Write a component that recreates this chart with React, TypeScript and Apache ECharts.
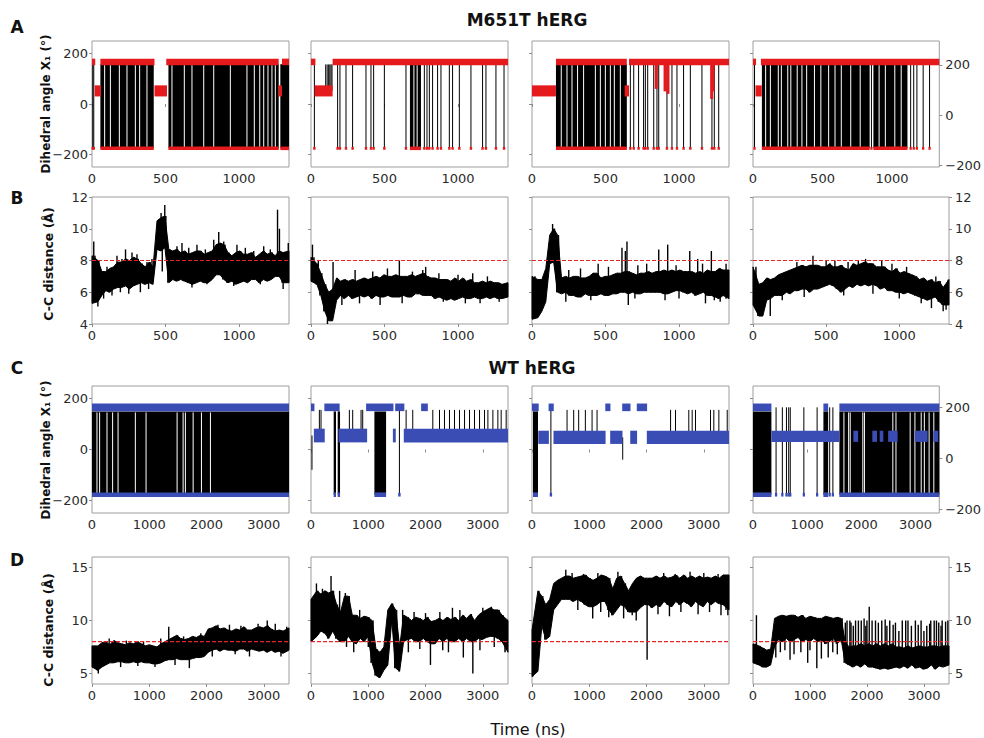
import React, { useEffect, useRef } from 'react';
import * as echarts from 'echarts';

// ---------------- axis data ----------------
const MUT_TIME_END = 1340;
const WT_TIME_END = 3440;
const MUT_TIME_TICKS = [0, 500, 1000];
const WT_TIME_TICKS = [0, 1000, 2000, 3000];
const ANGLE_TICKS = [-200, 0, 200];
const MUT_DIST_TICKS = [4, 6, 8, 10, 12];
const WT_DIST_TICKS = [5, 10, 15];
const DIST_CUTOFF = 8;

// dihedral state levels (degrees)
const MUT_LEVELS = { top: 167, topSpread: 13, bottom: -176, bottomSpread: 7, flipTop: 158 };
const WT_LEVELS = { top: 166, topSpread: 15, bottom: -178, bottomSpread: 9, flipTop: 150 };
const MUT_GAUCHE = [52, 22];
const WT_GAUCHE_C2 = [55, 27];
const WT_GAUCHE_C3 = [48, 26];
const WT_GAUCHE_C4 = [52, 22];

// ---------------- A: M651T dihedral ----------------
const A1_TOP = [[0, 22], [57, 425], [505, 1270], [1292, 1340]];
const A1_MID = [[18, 60], [425, 510], [1268, 1292]];
const A1_DENSE = [[57, 420], [520, 1270], [1281, 1340]];
const A1_GAPS = [86, 125, 186, 238, 295, 324, 374, 544, 628, 680, 760, 828, 941, 1054, 1104, 1141, 1168, 1197, 1224, 1247];
const A1_FLIPS = [5, 12];

const A2_TOP = [[0, 30], [147, 1340]];
const A2_MID = [[25, 147]];
const A2_DENSE = [[673, 748]];
const A2_GAPS = [700, 722];
const A2_FLIPS = [23, 181, 197, 238, 283, 374, 408, 426, 499, 646, 771, 789, 805, 827, 861, 884, 941, 963, 1009, 1088, 1167, 1190, 1258, 1313];
const A2_HOPS = [100, 110, 120, 128, 136, 143];

const A3_TOP = [[163, 645], [660, 1340]];
const A3_MID = [[0, 163], [630, 660]];
const A3_DENSE = [[163, 645]];
const A3_GAPS = [199, 238, 272, 310, 351, 431, 465, 499, 533, 560, 601];
const A3_FLIPS = [669, 692, 725, 759, 771, 787, 828, 850, 862, 918, 952, 986, 1031, 1077, 1156, 1224, 1240, 1270];
const A3_DIPS = [[845, 60], [905, 50], [925, 40], [1222, 20], [1232, 50]];

const A4_TOP = [[0, 22], [57, 1340]];
const A4_MID = [[18, 63]];
const A4_DENSE = [[64, 839], [866, 1111]];
const A4_GAPS = [91, 125, 182, 204, 250, 272, 318, 352, 386, 442, 488, 544, 590, 635, 703, 771, 907, 952, 1020, 1066];
const A4_FLIPS = [11, 852, 1134, 1156, 1179, 1224, 1270];

// ---------------- B: M651T C-C distance: core band per bin (low / high) + spikes [t, value] ----------------
const B1_LO = [5.3,5.4,5.8,6.1,6.0,6.2,6.3,6.3,6.4,6.2,6.4,6.5,6.6,6.5,6.6,6.5,8.7,8.6,8.8,6.6,6.8,6.7,6.8,6.7,6.6,6.5,6.6,6.7,6.6,6.6,6.8,7.1,7.1,6.8,6.6,6.7,6.5,6.6,6.7,6.6,6.8,6.8,6.6,6.8,6.7,6.8,7.0,7.0,6.6,6.6];
const B1_HI = [8.3,8.0,7.3,7.3,7.5,7.6,7.9,7.9,8.1,8.0,8.2,8.1,7.8,7.6,7.9,7.6,10.5,10.7,10.8,8.7,8.6,8.7,8.5,8.6,8.4,8.5,8.6,8.6,8.4,8.5,8.6,9.0,9.1,9.0,8.5,8.3,8.5,8.6,8.4,8.4,8.5,8.2,8.4,8.6,8.4,8.5,8.3,8.6,8.5,8.6];
const B1_SPIKES = [[12, 9.2], [40, 5.1], [57, 7.6], [79, 5.6], [102, 7.6], [136, 5.8], [170, 8.3], [193, 6.0], [204, 8.1], [228, 8.7], [250, 5.9], [272, 8.5], [306, 8.4], [329, 6.0], [374, 7.9], [385, 6.2], [408, 8.1], [470, 11.0], [478, 7.3], [495, 11.5], [578, 8.9], [612, 9.1], [658, 8.8], [680, 6.3], [714, 9.0], [771, 8.7], [782, 6.5], [828, 9.3], [862, 9.8], [896, 9.2], [964, 6.4], [986, 9.0], [1043, 8.8], [1100, 8.6], [1145, 6.5], [1168, 8.9], [1213, 8.7], [1262, 11.2], [1275, 10.0], [1300, 6.2], [1335, 9.1]];
const B2_LO = [6.7,6.5,5.8,4.8,4.2,4.2,5.5,5.8,5.6,5.8,5.6,5.7,5.8,5.7,5.8,5.6,5.8,5.7,5.7,5.8,5.7,5.7,5.7,5.8,5.7,5.7,5.9,5.9,5.8,5.8,5.8,5.6,5.7,5.6,5.5,5.6,5.5,5.6,5.7,5.6,5.6,5.7,5.6,5.6,5.7,5.6,5.7,5.6,5.6,5.7];
const B2_HI = [8.2,7.8,7.2,6.5,6.0,6.2,6.9,6.7,6.8,6.7,6.8,6.7,6.8,6.9,6.8,6.9,7.0,6.9,7.1,7.0,7.0,7.1,7.0,7.0,7.0,7.1,7.0,7.1,7.2,7.0,6.9,6.9,6.8,6.8,6.8,6.7,6.9,6.7,6.9,6.7,6.8,6.6,6.6,6.7,6.6,6.7,6.6,6.6,6.5,6.6];
const B2_SPIKES = [[10, 9.0], [50, 8.0], [112, 4.0], [150, 7.9], [210, 5.2], [300, 7.4], [330, 5.3], [420, 7.3], [470, 5.2], [520, 7.5], [601, 8.0], [620, 5.3], [690, 7.3], [760, 7.4], [780, 7.6], [870, 7.2], [900, 5.4], [1000, 7.1], [1050, 5.3], [1100, 7.2], [1150, 5.3], [1200, 7.0], [1280, 5.4]];
const B3_LO = [4.3,4.4,4.8,5.4,7.8,7.9,6.0,5.9,6.0,5.8,5.8,5.7,5.7,5.9,5.8,5.8,5.8,5.9,5.8,5.8,5.9,5.9,6.0,6.0,5.9,6.0,5.9,5.9,6.0,6.0,6.0,6.0,6.0,5.9,5.9,6.0,6.1,6.1,6.0,5.9,6.0,5.8,5.9,6.0,5.8,5.8,5.7,5.6,5.8,5.6];
const B3_HI = [7.0,6.8,6.8,7.5,9.6,10.0,9.6,6.9,7.0,6.9,7.0,7.0,6.9,6.9,7.0,7.2,7.2,6.9,7.0,7.0,7.1,7.2,7.2,7.3,7.3,7.2,7.1,7.2,7.2,7.3,7.2,7.3,7.3,7.4,7.3,7.4,7.3,7.4,7.3,7.3,7.3,7.2,7.3,7.2,7.4,7.3,7.3,7.5,7.4,7.4];
const B3_SPIKES = [[140, 10.3], [230, 5.4], [250, 7.4], [330, 7.5], [400, 5.5], [450, 7.8], [520, 7.6], [612, 8.8], [635, 8.6], [646, 9.2], [655, 5.2], [700, 5.6], [720, 7.7], [780, 7.8], [862, 8.7], [905, 5.5], [923, 9.0], [980, 7.7], [1000, 5.6], [1073, 8.6], [1127, 8.1], [1160, 7.8], [1180, 5.3], [1220, 8.6], [1240, 5.5], [1280, 5.4], [1320, 7.8]];
const B4_LO = [5.2,4.5,4.5,5.5,5.6,5.8,5.8,5.8,6.0,5.9,6.1,6.1,6.2,6.2,6.0,6.2,6.2,6.3,6.4,6.5,6.4,6.2,6.0,6.2,6.4,6.3,6.5,6.4,6.5,6.4,6.5,6.4,6.2,6.3,6.1,6.1,6.0,6.0,5.9,6.0,5.9,5.8,5.7,5.6,5.5,5.6,5.7,5.4,5.2,5.2];
const B4_HI = [7.6,6.5,6.6,6.9,6.8,6.9,7.1,7.2,7.3,7.4,7.5,7.6,7.7,7.6,7.7,7.7,7.7,7.6,7.6,7.8,7.6,7.6,7.7,7.5,7.4,7.8,7.7,7.8,7.9,7.8,7.8,7.6,7.6,7.6,7.4,7.3,7.5,7.2,7.3,7.2,7.1,7.0,6.8,6.9,6.7,6.8,6.6,6.7,6.3,6.8];
const B4_SPIKES = [[118, 4.5], [200, 5.5], [300, 7.9], [350, 5.7], [410, 8.3], [500, 8.0], [560, 8.0], [620, 5.8], [650, 7.9], [720, 8.0], [770, 8.1], [820, 5.9], [880, 8.0], [950, 7.8], [1000, 5.6], [1050, 7.6], [1150, 5.3], [1220, 5.0], [1250, 7.0], [1300, 4.8], [1320, 4.9]];

// ---------------- C: WT dihedral ----------------
const C1_TOP = [[0, 3440]];
const C1_DENSE = [[0, 3440]];
const C1_GAPS = [87, 133, 262, 360, 455, 757, 944, 1486, 1591, 1631, 1766, 1911, 2068];

const C2_TOP = [[0, 60], [233, 500], [962, 1440], [1470, 1630], [1923, 2040]];
const C2_MID = [[50, 240], [480, 980], [1430, 1480], [1620, 3440]];
const C2_DENSE = [[396, 437], [466, 507], [1107, 1311]];
const C2_FLIPS = [1544];
const C2_HOPS = [146, 175, 670, 728, 874, 903, 1661, 1777, 2127, 2244, 2331, 2418, 2506, 2593, 2681, 2768, 2855, 2943, 3030, 3089, 3176, 3263, 3321, 3408];
const C2_DIPS = [[17, -80]];

const C3_TOP = [[0, 117], [290, 380], [1280, 1370], [1575, 1720], [1830, 2010]];
const C3_MID = [[110, 295], [375, 1285], [1365, 1580], [1715, 1835], [2005, 3440]];
const C3_DENSE = [[17, 105]];
const C3_FLIPS = [330];
const C3_HOPS = [612, 728, 815, 932, 1049, 1136, 2420, 2506, 2738, 2797, 2855, 3117, 3175, 3263, 3409];
const C3_DIPS = [[1584, -40]];

const C4_TOP = [[0, 340], [1300, 1388], [1595, 3440]];
const C4_MID = [[340, 1595], [1853, 1941], [2203, 2290], [2340, 2407], [2495, 2670], [2990, 3224], [3330, 3420]];
const C4_DENSE = [[0, 340], [1300, 1388], [1595, 3440]];
const C4_GAPS = [1679, 1766, 1795, 2028, 2058, 2582, 2640, 2902, 2990, 3106, 3164, 3252, 3339];
const C4_FLIPS = [426, 542, 618, 659, 688, 939, 1184, 1416, 1475];

// ---------------- D: WT C-C distance: core band per bin (low / high) + spikes [t, value] ----------------
const D1_LO = [5.6,5.3,5.6,5.8,6.0,6.0,6.1,6.1,6.0,6.0,6.1,6.0,6.1,6.0,6.0,5.9,5.9,6.0,6.2,6.3,6.3,6.4,6.3,6.3,6.3,6.4,6.5,6.5,6.6,7.0,7.2,7.3,7.1,7.3,7.2,7.2,7.1,7.3,7.3,7.1,7.3,7.2,7.1,7.2,7.0,7.2,7.0,7.1,6.9,7.2];
const D1_HI = [7.6,7.6,7.9,8.0,7.7,8.1,7.9,7.8,7.7,7.9,7.8,8.0,7.8,7.6,7.7,7.6,7.5,7.8,8.0,8.2,8.4,8.6,8.3,8.2,8.3,8.5,8.4,8.6,8.5,9.2,9.3,9.5,9.2,9.3,9.1,9.0,9.2,9.1,9.4,9.1,9.1,9.3,9.4,9.3,9.5,9.2,9.0,9.1,9.0,9.3];
const D1_SPIKES = [[110, 5.0], [300, 8.3], [500, 5.6], [600, 8.1], [800, 5.7], [900, 8.0], [1100, 5.6], [1200, 8.3], [1340, 9.4], [1450, 5.8], [1600, 8.5], [1700, 5.5], [1900, 8.8], [2100, 6.6], [2200, 9.6], [2400, 9.6], [2500, 6.8], [2600, 9.5], [2750, 6.6], [2900, 9.7], [3060, 10.0], [3200, 9.7], [3300, 6.6], [3400, 9.4]];
const D2_LO = [8.0,8.5,9.0,8.8,8.3,9.0,8.3,8.0,8.0,8.5,8.0,7.8,8.3,8.0,8.5,6.0,4.8,4.6,5.3,5.8,10.0,5.5,5.2,8.0,8.2,8.3,8.0,8.0,8.3,8.0,7.8,7.8,8.3,8.0,8.3,8.0,8.0,8.3,8.0,8.3,8.0,8.0,8.3,8.2,8.4,8.5,8.5,8.3,8.0,7.0];
const D2_HI = [12.0,12.8,12.5,12.8,12.6,12.8,11.5,10.8,12.3,12.3,10.5,10.5,10.2,10.4,10.3,10.0,7.3,7.0,7.5,11.0,11.6,11.0,7.5,10.5,10.3,10.0,10.3,10.2,10.0,10.3,9.9,10.0,10.2,10.0,10.3,10.1,10.3,10.0,10.5,10.2,10.6,10.0,10.5,10.8,11.0,11.2,11.0,11.0,10.5,10.0];
const D2_SPIKES = [[95, 13.5], [200, 13.0], [350, 14.2], [500, 12.8], [600, 12.6], [620, 7.5], [746, 7.0], [850, 11.0], [1000, 7.5], [1600, 11.0], [1700, 7.0], [1800, 10.8], [1900, 7.3], [2000, 10.7], [2086, 5.8], [2250, 10.8], [2300, 7.2], [2400, 7.0], [2470, 11.2], [2600, 11.0], [2660, 6.5], [2826, 5.0], [2950, 7.2], [3000, 11.2], [3150, 11.3], [3200, 7.5]];
const D3_LO = [4.7,5.2,9.5,8.2,8.5,11.0,11.5,12.0,12.0,12.0,11.8,12.0,11.8,11.5,11.3,11.3,11.5,11.8,11.8,11.0,10.5,11.0,11.5,11.3,10.8,10.8,10.8,11.2,11.5,11.5,11.2,11.5,11.3,11.8,11.5,11.3,11.8,11.5,11.8,11.6,11.3,11.8,11.5,11.3,11.8,11.5,11.8,11.6,11.5,11.0];
const D3_HI = [9.1,12.8,12.3,11.5,12.0,13.5,13.8,14.0,14.2,14.2,14.0,14.1,14.2,14.3,14.0,13.8,14.0,14.3,14.2,14.0,13.0,14.0,14.2,13.5,12.8,13.5,14.0,14.2,14.0,14.0,14.0,14.2,14.0,14.2,14.0,14.1,14.3,14.0,14.3,14.0,14.2,14.0,14.2,14.0,14.1,14.0,14.2,14.0,14.3,14.3];
const D3_SPIKES = [[590, 14.8], [700, 14.5], [800, 11.0], [900, 14.4], [1060, 10.2], [1150, 14.5], [1200, 10.8], [1340, 10.3], [1500, 14.6], [1600, 10.2], [1750, 10.5], [1820, 10.0], [2010, 6.3], [2200, 10.6], [2300, 14.5], [2400, 10.4], [2500, 14.4], [2600, 10.8], [2760, 14.6], [2900, 10.6], [3000, 14.5], [3100, 10.8], [3250, 14.4], [3300, 10.5], [3420, 10.5]];
const D4_LO = [6.0,5.8,5.6,5.6,5.8,7.5,8.2,8.0,8.3,8.0,8.2,8.4,8.0,8.2,8.0,8.3,8.0,8.2,7.8,8.0,8.3,7.8,8.2,6.0,5.8,5.6,5.8,5.6,5.9,5.6,5.6,5.5,5.4,5.5,5.4,5.5,5.6,5.5,5.7,5.5,5.8,5.5,5.6,5.4,5.5,5.8,5.4,5.7,5.6,5.8];
const D4_HI = [7.8,7.6,7.4,7.2,7.3,10.2,10.4,10.5,10.4,10.5,10.5,10.3,10.5,10.2,10.4,10.3,10.2,10.2,10.4,10.3,10.2,10.3,10.2,8.0,7.5,7.6,7.6,7.8,7.6,7.8,7.6,7.8,7.6,7.8,7.6,7.8,7.5,7.5,7.4,7.6,7.4,7.5,7.6,7.5,7.5,7.6,7.6,7.5,7.6,7.6];
const D4_SPIKES = [[60, 10.5], [400, 6.5], [480, 7.0], [560, 7.2], [650, 6.3], [720, 6.8], [840, 7.0], [960, 6.0], [1000, 7.2], [1120, 5.5], [1200, 6.4], [1320, 6.5], [1400, 7.0], [1480, 6.8], [1620, 9.8], [1650, 10.0], [1700, 10.0], [1720, 9.8], [1760, 9.5], [1800, 10.0], [1850, 10.0], [1900, 10.0], [1950, 10.2], [1980, 9.5], [2000, 10.0], [2040, 11.3], [2090, 10.0], [2150, 10.0], [2200, 9.8], [2260, 10.0], [2320, 10.1], [2350, 9.5], [2400, 10.0], [2460, 9.6], [2500, 9.8], [2560, 9.0], [2620, 10.0], [2680, 10.0], [2720, 10.0], [2780, 9.5], [2850, 10.0], [2900, 9.6], [2950, 10.0], [3000, 9.0], [3050, 9.5], [3100, 9.7], [3120, 10.0], [3180, 10.0], [3220, 10.0], [3260, 9.8], [3300, 9.5], [3320, 10.0], [3380, 9.9], [3420, 10.0]];

// ---------------- styling ----------------
const FONT = '"DejaVu Sans", sans-serif';
const MUT_COLOR = '#e41a1c';
const WT_COLOR = '#3a4db5';
const BORDER = '#9e9e9e';
const TICK_TEXT = '#2b2b2b';
const COL_LEFT = [92, 311, 532, 753];
const COL_WIDTH = [197, 197, 197, 196];
const ROW_TOP = [41, 197, 386, 557];
const ROW_HEIGHT = [126, 127, 127, 127];

const fmt = (v: number) => (v < 0 ? '\u2212' + Math.abs(v) : String(v));

const rectItem = (color: string) => (_p: any, api: any) => {
  const a = api.coord([api.value(0), api.value(2)]);
  const b = api.coord([api.value(1), api.value(3)]);
  return {
    type: 'rect',
    shape: { x: Math.min(a[0], b[0]), y: Math.min(a[1], b[1]), width: Math.max(Math.abs(b[0] - a[0]), 1), height: Math.abs(b[1] - a[1]) },
    style: { fill: color },
  };
};
const segItem = (color: string, width: number) => (_p: any, api: any) => {
  const a = api.coord([api.value(0), api.value(1)]);
  const b = api.coord([api.value(0), api.value(2)]);
  return { type: 'line', shape: { x1: a[0], y1: a[1], x2: b[0], y2: b[1] }, style: { stroke: color, lineWidth: width } };
};

function zigzag(lo: number[], hi: number[], T: number) {
  const n = lo.length;
  const w = T / n;
  const pts: number[][] = [];
  for (let i = 0; i < n; i++) {
    pts.push([(i + 0.25) * w, lo[i]]);
    pts.push([(i + 0.75) * w, hi[i]]);
  }
  return pts;
}

function bandOutline(lo: number[], hi: number[], T: number) {
  const n = lo.length;
  const w = T / n;
  const xAt = (i: number) => (i === 0 ? 0 : i === n - 1 ? T : (i + 0.5) * w);
  const pts: number[][] = [];
  for (let i = 0; i < n; i++) pts.push([xAt(i), hi[i]]);
  for (let i = n - 1; i >= 0; i--) pts.push([xAt(i), lo[i]]);
  return pts;
}

type Dihedral = {
  top: number[][]; mid?: number[][]; gauche?: number[]; dense: number[][]; gaps?: number[];
  flips?: number[]; hops?: number[]; dips?: number[][]; colorDips?: number[][];
};

const ROW_A: Dihedral[] = [
  { top: A1_TOP, mid: A1_MID, gauche: MUT_GAUCHE, dense: A1_DENSE, gaps: A1_GAPS, flips: A1_FLIPS },
  { top: A2_TOP, mid: A2_MID, gauche: MUT_GAUCHE, dense: A2_DENSE, gaps: A2_GAPS, flips: A2_FLIPS, hops: A2_HOPS },
  { top: A3_TOP, mid: A3_MID, gauche: MUT_GAUCHE, dense: A3_DENSE, gaps: A3_GAPS, flips: A3_FLIPS, colorDips: A3_DIPS },
  { top: A4_TOP, mid: A4_MID, gauche: MUT_GAUCHE, dense: A4_DENSE, gaps: A4_GAPS, flips: A4_FLIPS },
];
const ROW_C: Dihedral[] = [
  { top: C1_TOP, dense: C1_DENSE, gaps: C1_GAPS },
  { top: C2_TOP, mid: C2_MID, gauche: WT_GAUCHE_C2, dense: C2_DENSE, flips: C2_FLIPS, hops: C2_HOPS, dips: C2_DIPS },
  { top: C3_TOP, mid: C3_MID, gauche: WT_GAUCHE_C3, dense: C3_DENSE, flips: C3_FLIPS, hops: C3_HOPS, dips: C3_DIPS },
  { top: C4_TOP, mid: C4_MID, gauche: WT_GAUCHE_C4, dense: C4_DENSE, gaps: C4_GAPS, flips: C4_FLIPS },
];
const ROW_B = [[B1_LO, B1_HI, B1_SPIKES], [B2_LO, B2_HI, B2_SPIKES], [B3_LO, B3_HI, B3_SPIKES], [B4_LO, B4_HI, B4_SPIKES]];
const ROW_D = [[D1_LO, D1_HI, D1_SPIKES], [D2_LO, D2_HI, D2_SPIKES], [D3_LO, D3_HI, D3_SPIKES], [D4_LO, D4_HI, D4_SPIKES]];

function dihedralSeries(p: number, d: Dihedral, L: any, color: string, T: number) {
  const base = { type: 'custom', xAxisIndex: p, yAxisIndex: p, silent: true, animation: false };
  const out: any[] = [];
  const dot = (T / 197) * 1.2;
  out.push({ ...base, z: 2, renderItem: rectItem('#000'), data: d.dense.map(([a, b]) => [a, b, L.bottom, L.flipTop]) });
  if (d.flips) out.push({ ...base, z: 2, renderItem: segItem('#000', 1), data: d.flips.map((t) => [t, L.bottom, L.top]) });
  if (d.hops && d.gauche) out.push({ ...base, z: 2, renderItem: segItem('#000', 1), data: d.hops.map((t) => [t, d.gauche![0], L.top - 10]) });
  if (d.dips && d.gauche) out.push({ ...base, z: 2, renderItem: segItem('#000', 1), data: d.dips.map(([t, v]) => [t, d.gauche![0], v]) });
  if (d.gaps) out.push({ ...base, z: 3, renderItem: segItem('#ffffff', 1), data: d.gaps.map((t) => [t, L.bottom, L.flipTop - 4]) });
  out.push({ ...base, z: 4, renderItem: rectItem(color), data: d.top.map(([a, b]) => [a, b, L.top - L.topSpread, L.top + L.topSpread]) });
  out.push({ ...base, z: 4, renderItem: rectItem(color), data: d.dense.map(([a, b]) => [a, b, L.bottom - L.bottomSpread, L.bottom + L.bottomSpread]) });
  if (d.flips) out.push({ ...base, z: 4, renderItem: rectItem(color), data: d.flips.map((t) => [t - dot, t + dot, L.bottom - L.bottomSpread * 0.8, L.bottom + L.bottomSpread * 0.8]) });
  if (d.mid && d.gauche) out.push({ ...base, z: 4, renderItem: rectItem(color), data: d.mid.map(([a, b]) => [a, b, d.gauche![0] - d.gauche![1], d.gauche![0] + d.gauche![1]]) });
  if (d.colorDips) out.push({ ...base, z: 4, renderItem: segItem(color, 3), data: d.colorDips.map(([t, v]) => [t, L.top, v]) });
  return out;
}

function distanceSeries(p: number, lo: number[], hi: number[], spikes: number[][], T: number) {
  const n = lo.length;
  const w = T / n;
  const outline = bandOutline(lo, hi, T);
  const spikeSegs = spikes.map(([t, v]) => {
    const i = Math.min(n - 1, Math.floor(t / w));
    return [t, (lo[i] + hi[i]) / 2, v];
  });
  return [
    {
      type: 'custom', xAxisIndex: p, yAxisIndex: p, silent: true, z: 2, data: outline,
      renderItem: (params: any, api: any) => {
        if (params.dataIndex !== 0) return null;
        return { type: 'polygon', shape: { points: outline.map((q) => api.coord(q)) }, style: { fill: '#000', stroke: '#000', lineWidth: 1 } };
      },
    },
    { type: 'line', xAxisIndex: p, yAxisIndex: p, data: zigzag(lo, hi, T), symbol: 'none', silent: true, lineStyle: { color: '#000', width: 1 }, z: 2 },
    { type: 'custom', xAxisIndex: p, yAxisIndex: p, silent: true, z: 2, data: spikeSegs, renderItem: segItem('#000', 1.4) },
    {
      type: 'line', xAxisIndex: p, yAxisIndex: p, data: [[0, DIST_CUTOFF], [T, DIST_CUTOFF]], symbol: 'none', silent: true,
      lineStyle: { color: '#e8262a', width: 1.2, type: [4, 2] }, z: 5,
    },
  ];
}

function buildOption() {
  const grid: any[] = [];
  const xAxis: any[] = [];
  const yAxis: any[] = [];
  const right: any[] = [];
  const series: any[] = [];
  const yRange = [[-250, 250], [4, 12], [-250, 250], [4, 16]];
  const yRightRange = [[-205, 295], [4, 12], [-215, 285], [4, 16]];
  const yTicks = [ANGLE_TICKS, MUT_DIST_TICKS, ANGLE_TICKS, WT_DIST_TICKS];
  const tickStyle = { show: true, length: 3, lineStyle: { color: '#8c8c8c', width: 1 } };
  const labelStyle = { fontSize: 13, color: TICK_TEXT, fontFamily: FONT };
  for (let r = 0; r < 4; r++) {
    for (let c = 0; c < 4; c++) {
      const p = r * 4 + c;
      const mut = r < 2;
      const T = mut ? MUT_TIME_END : WT_TIME_END;
      const xt = mut ? MUT_TIME_TICKS : WT_TIME_TICKS;
      grid.push({ left: COL_LEFT[c], top: ROW_TOP[r], width: COL_WIDTH[c], height: ROW_HEIGHT[r], show: true, borderColor: BORDER, borderWidth: 1, containLabel: false });
      xAxis.push({
        type: 'value', gridIndex: p, min: 0, max: T, interval: xt[1],
        axisLine: { show: false }, splitLine: { show: false },
        axisTick: { ...tickStyle, customValues: xt },
        axisLabel: { ...labelStyle, margin: 5, customValues: xt, formatter: fmt },
      });
      yAxis.push({
        type: 'value', gridIndex: p, position: 'left', min: yRange[r][0], max: yRange[r][1],
        axisLine: { show: false }, splitLine: { show: false },
        axisTick: { ...tickStyle, customValues: yTicks[r] },
        axisLabel: { ...labelStyle, show: c === 0, margin: 4, customValues: yTicks[r], formatter: fmt },
      });
      if (c === 3) {
        right.push({
          type: 'value', gridIndex: p, position: 'right', min: yRightRange[r][0], max: yRightRange[r][1],
          axisLine: { show: false }, splitLine: { show: false },
          axisTick: { ...tickStyle, customValues: yTicks[r] },
          axisLabel: { ...labelStyle, margin: 6, customValues: yTicks[r], formatter: fmt },
        });
      }
      if (r === 0) series.push(...dihedralSeries(p, ROW_A[c], MUT_LEVELS, MUT_COLOR, T));
      if (r === 2) series.push(...dihedralSeries(p, ROW_C[c], WT_LEVELS, WT_COLOR, T));
      if (r === 1 || r === 3) {
        const [lo, hi, spikes] = (r === 1 ? ROW_B[c] : ROW_D[c]) as any;
        series.push(...distanceSeries(p, lo, hi, spikes, T));
      }
    }
  }
  const txt = (x: number, y: number, text: string, font: string, rot = 0) => ({
    type: 'text', x, y, rotation: rot, silent: true,
    style: { text, font, fill: '#111', align: 'center', verticalAlign: 'middle', textAlign: 'center', textVerticalAlign: 'middle' },
  });
  const graphic = [
    txt(527, 20, 'M651T hERG', `bold 17px ${FONT}`),
    txt(532, 368, 'WT hERG', `bold 17px ${FONT}`),
    txt(17, 27, 'A', `bold 17px ${FONT}`),
    txt(17, 198, 'B', `bold 17px ${FONT}`),
    txt(17, 368, 'C', `bold 17px ${FONT}`),
    txt(17, 560, 'D', `bold 17px ${FONT}`),
    txt(46, 104, 'Dihedral angle X\u2081 (\u00b0)', `bold 12px ${FONT}`, Math.PI / 2),
    txt(48, 264, 'C-C distance (\u00c5)', `bold 12.5px ${FONT}`, Math.PI / 2),
    txt(46, 450, 'Dihedral angle X\u2081 (\u00b0)', `bold 12px ${FONT}`, Math.PI / 2),
    txt(48, 630, 'C-C distance (\u00c5)', `bold 12.5px ${FONT}`, Math.PI / 2),
    txt(528, 729, 'Time (ns)', `16px ${FONT}`),
  ];
  return { animation: false, backgroundColor: '#ffffff', grid, xAxis, yAxis: [...yAxis, ...right], series, graphic };
}

export default function App() {
  const ref = useRef<HTMLDivElement>(null);
  useEffect(() => {
    if (!ref.current) return;
    const chart = echarts.init(ref.current, null, { renderer: 'svg', width: 984, height: 738 });
    chart.setOption(buildOption() as any);
    return () => chart.dispose();
  }, []);
  return <div ref={ref} style={{ position: 'absolute', left: 0, top: 0, width: 984, height: 738 }} />;
}
